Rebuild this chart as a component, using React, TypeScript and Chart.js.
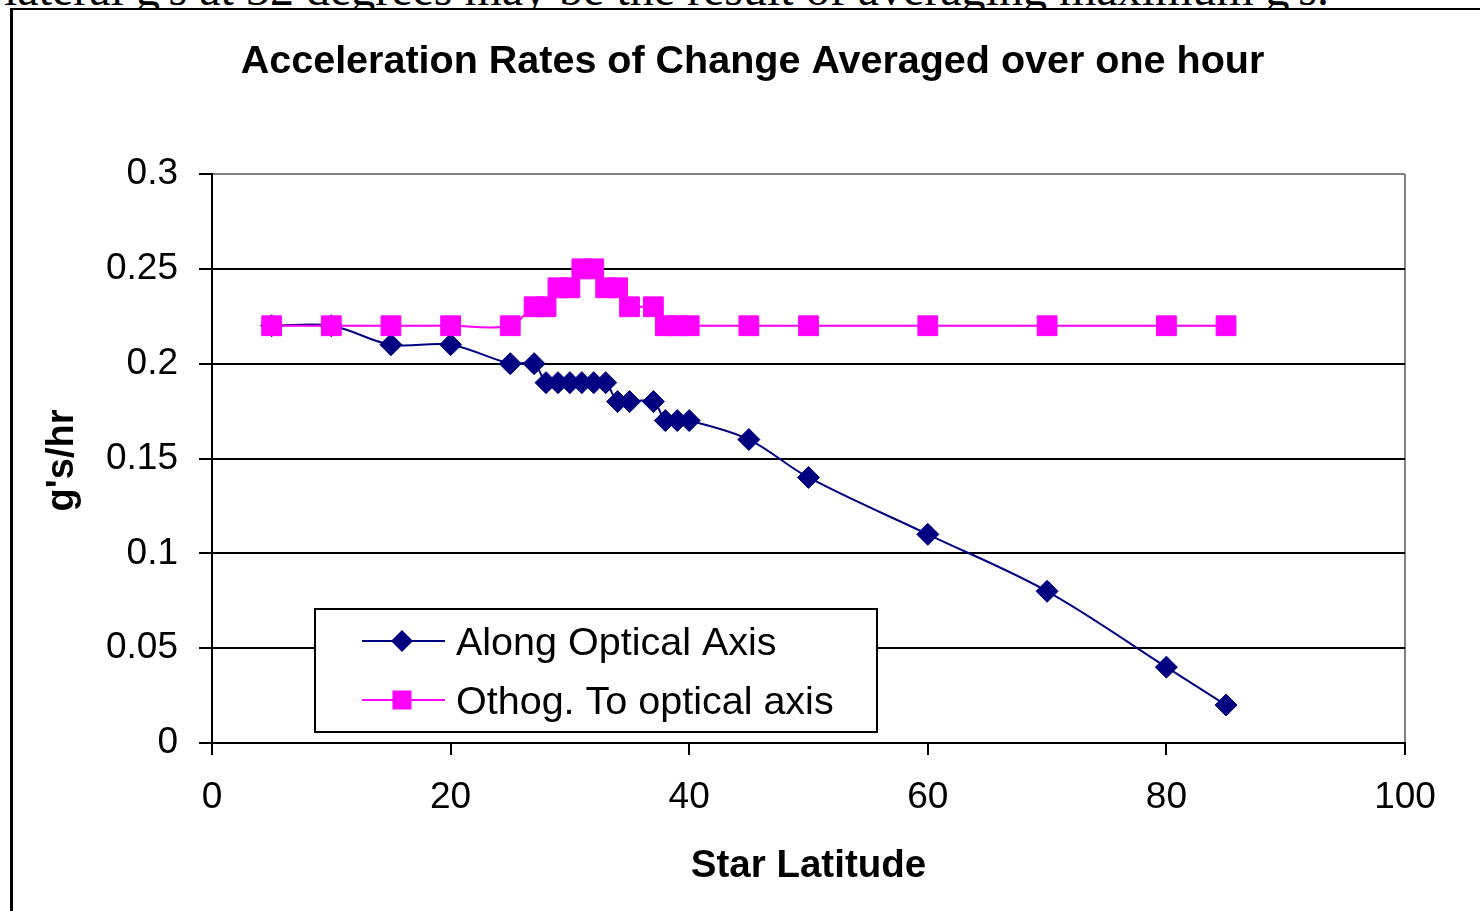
import { useEffect, useRef } from 'react';
import { Chart, registerables } from 'chart.js';

Chart.register(...registerables);

// Star latitude (degrees) sampled for both series
const LATITUDE = [5, 10, 15, 20, 25, 27, 28, 29, 30, 31, 32, 33, 34, 35, 37, 38, 39, 40, 45, 50, 60, 70, 80, 85];

// Rate of change of acceleration, g's per hour
const ALONG_AXIS = [
  0.22, 0.22, 0.21, 0.21, 0.2, 0.2, 0.19, 0.19, 0.19, 0.19, 0.19, 0.19,
  0.18, 0.18, 0.18, 0.17, 0.17, 0.17, 0.16, 0.14, 0.11, 0.08, 0.04, 0.02,
];
const ORTHOGONAL = [
  0.22, 0.22, 0.22, 0.22, 0.22, 0.23, 0.23, 0.24, 0.24, 0.25, 0.25, 0.24,
  0.24, 0.23, 0.23, 0.22, 0.22, 0.22, 0.22, 0.22, 0.22, 0.22, 0.22, 0.22,
];

const SERIES_NAMES = ['Along Optical Axis', 'Othog. To optical axis'];
const TITLE = 'Acceleration Rates of Change Averaged over one hour';
const X_TITLE = 'Star Latitude';
const Y_TITLE = "g's/hr";
const X_RANGE = [0, 100];
const X_STEP = 20;
const Y_RANGE = [0, 0.3];
const Y_STEP = 0.05;
const LEAD_TEXT = "lateral g's at 32 degrees may be the result of averaging maximum g's.";

const NAVY = '#000080';
const MAGENTA = '#FF00FF';
const GRAY = '#808080';
const SANS = "'Liberation Sans', Arial, Helvetica, sans-serif";

function toPoints(xs: number[], ys: number[]) {
  return xs.map((x, i) => ({ x, y: ys[i] }));
}

function drawMarker(ctx: CanvasRenderingContext2D, style: string, cx: number, cy: number, color: string) {
  ctx.fillStyle = color;
  if (style === 'rectRot') {
    const r = 11;
    ctx.beginPath();
    ctx.moveTo(cx, cy - r);
    ctx.lineTo(cx + r, cy);
    ctx.lineTo(cx, cy + r);
    ctx.lineTo(cx - r, cy);
    ctx.closePath();
    ctx.fill();
  } else {
    const s = 19;
    ctx.fillRect(cx - s / 2, cy - s / 2, s, s);
  }
}

// Draws the chart heading, axis captions and the boxed legend
const captionsPlugin = {
  id: 'captions',
  afterDraw(chart: any) {
    const { ctx, chartArea } = chart;
    const { left, right, top, bottom } = chartArea;
    ctx.save();
    ctx.fillStyle = '#000';
    ctx.textAlign = 'center';
    ctx.textBaseline = 'alphabetic';

    // heading
    ctx.font = `bold 39.5px ${SANS}`;
    ctx.fillText(TITLE, 752.5, 73);

    // x caption
    ctx.font = `bold 38.5px ${SANS}`;
    ctx.fillText(X_TITLE, (left + right) / 2, 877);

    // y caption
    ctx.save();
    ctx.translate(73, (top + bottom) / 2 + 2);
    ctx.rotate(-Math.PI / 2);
    ctx.font = `bold 38px ${SANS}`;
    ctx.fillText(Y_TITLE, 0, 0);
    ctx.restore();

    // legend box
    const bx = left + 103;
    const by = bottom - 134;
    const bw = 562;
    const bh = 123;
    ctx.fillStyle = '#fff';
    ctx.fillRect(bx, by, bw, bh);
    ctx.strokeStyle = '#000';
    ctx.lineWidth = 2;
    ctx.strokeRect(bx, by, bw, bh);

    const rows = [32, 91];
    chart.data.datasets.forEach((ds: any, i: number) => {
      const cy = by + rows[i];
      ctx.strokeStyle = ds.borderColor;
      ctx.lineWidth = 2;
      ctx.beginPath();
      ctx.moveTo(bx + 47, cy);
      ctx.lineTo(bx + 130, cy);
      ctx.stroke();
      drawMarker(ctx, ds.pointStyle, bx + 87, cy, ds.borderColor);
      ctx.fillStyle = '#000';
      ctx.textAlign = 'left';
      ctx.font = `39.5px ${SANS}`;
      ctx.fillText(ds.label, bx + 141, cy + 13.5);
    });
    ctx.restore();
  },
};

export default function App() {
  const canvasRef = useRef<HTMLCanvasElement>(null);

  useEffect(() => {
    const canvas = canvasRef.current;
    if (!canvas) return;
    Chart.defaults.font.family = SANS;
    const chart = new Chart(canvas, {
      type: 'line',
      data: {
        datasets: [
          {
            label: SERIES_NAMES[0],
            data: toPoints(LATITUDE, ALONG_AXIS),
            borderColor: NAVY,
            backgroundColor: NAVY,
            borderWidth: 2,
            tension: 0.35,
            pointStyle: 'rectRot',
            pointRadius: 11,
            pointBorderWidth: 1,
            pointBackgroundColor: NAVY,
            pointBorderColor: NAVY,
            order: 2,
          },
          {
            label: SERIES_NAMES[1],
            data: toPoints(LATITUDE, ORTHOGONAL),
            borderColor: MAGENTA,
            backgroundColor: MAGENTA,
            borderWidth: 2,
            tension: 0.35,
            pointStyle: 'rect',
            pointRadius: 14,
            pointBorderWidth: 1,
            pointBackgroundColor: MAGENTA,
            pointBorderColor: MAGENTA,
            order: 1,
          },
        ],
      },
      options: {
        responsive: false,
        animation: false,
        devicePixelRatio: 1,
        events: [],
        layout: { padding: { left: 0, top: 174, right: 75, bottom: 0 } },
        plugins: {
          legend: { display: false },
          title: { display: false },
          tooltip: { enabled: false },
        },
        scales: {
          x: {
            type: 'linear',
            position: 'bottom',
            min: X_RANGE[0],
            max: X_RANGE[1],
            afterFit: (s: any) => {
              s.height = 168;
            },
            ticks: { stepSize: X_STEP, padding: 21, color: '#000', font: { size: 37 } },
            grid: {
              color: (c: any) => (c.tick && c.tick.value >= X_RANGE[1] ? GRAY : 'rgba(0,0,0,0)'),
              tickColor: '#000',
              tickLength: 12,
              lineWidth: 2,
            },
            border: { color: '#000', width: 2 },
          },
          y: {
            type: 'linear',
            min: Y_RANGE[0],
            max: Y_RANGE[1],
            afterFit: (s: any) => {
              s.width = 212;
            },
            ticks: {
              stepSize: Y_STEP,
              padding: 21,
              color: '#000',
              font: { size: 37 },
              callback: (v: any) => String(parseFloat(Number(v).toFixed(2))),
            },
            grid: {
              color: (c: any) => (c.tick && c.tick.value > Y_RANGE[1] - 1e-6 ? GRAY : '#000'),
              tickColor: '#000',
              tickLength: 13,
              lineWidth: 2,
            },
            border: { color: '#000', width: 2 },
          },
        },
      },
      plugins: [captionsPlugin],
    } as any);
    return () => chart.destroy();
  }, []);

  return (
    <div
      style={{
        position: 'absolute',
        left: 0,
        top: 0,
        width: 1480,
        height: 911,
        overflow: 'hidden',
        background: '#fff',
      }}
    >
      <div
        style={{
          position: 'absolute',
          left: 4,
          top: -35,
          fontFamily: "'Liberation Serif', 'Times New Roman', serif",
          fontSize: 48,
          lineHeight: '48px',
          whiteSpace: 'nowrap',
          color: '#000',
        }}
      >
        {LEAD_TEXT}
      </div>
      <div
        style={{
          position: 'absolute',
          left: 10,
          top: 8,
          width: 1600,
          height: 1000,
          background: '#fff',
          borderLeft: '3px solid #000',
          borderTop: '2px solid #000',
        }}
      />
      <canvas
        ref={canvasRef}
        width={1480}
        height={911}
        style={{ position: 'absolute', left: 0, top: 0, width: 1480, height: 911 }}
      />
    </div>
  );
}
